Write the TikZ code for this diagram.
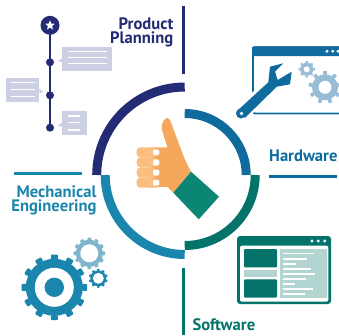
\documentclass[tikz,border=0pt]{standalone}
\usepackage{fontspec}
\setmainfont{PT Sans}
\usepackage{xcolor}
\definecolor{planningnavy}{HTML}{222B73}
\definecolor{hardwareblue}{HTML}{0F6A9E}
\definecolor{softwareteal}{HTML}{04736A}
\definecolor{mechblue}{HTML}{1B86AD}
\definecolor{bubblegrey}{HTML}{CDD0E2}
\definecolor{gearblue}{HTML}{97BDD6}
\definecolor{midgear}{HTML}{7FB5CC}
\definecolor{paneteal}{HTML}{B3D5D1}
\definecolor{handorange}{HTML}{F5A75B}
\definecolor{fingerorange}{HTML}{F9BE80}
\definecolor{cuffgreen}{HTML}{0B8574}
% x, y, outer radius, root radius, hole radius, teeth, colour
\newcommand{\cogwheel}[7]{%
  \fill[#7] (#1,#2) circle (#4);
  \foreach \ang in {1,...,#6}
    \fill[#7,rotate around={\ang*360/#6:(#1,#2)},rounded corners=0.8pt]
      ({#1-0.1*#4-0.6},{#2-#3}) rectangle ({#1+0.1*#4+0.6},{#2-#4+0.5});
  \fill[white] (#1,#2) circle (#5);
}
\tikzset{
  label/.style={font=\bfseries\fontsize{16.6}{13.8}\selectfont,inner sep=0pt,align=right},
  ring/.style={line width=9pt},
  bar/.style={line width=2.6pt},
  bubbleline/.style={white,line width=1.1pt},
  dot/.style={fill=planningnavy}
}
\begin{document}
\begin{tikzpicture}[x=1pt,y=-1pt]
  \useasboundingbox (0,0) rectangle (339,335);

  % timeline
  \draw[planningnavy,line width=2.4pt] (50,25) -- (50,128);
  \fill[dot] (50,25.3) circle (9.5);
  \fill[white] (50,20.3) -- (51.3,23.6) -- (54.8,23.8) -- (52.1,26.1) -- (53,29.5)
    -- (50,27.6) -- (47,29.5) -- (47.9,26.1) -- (45.2,23.8) -- (48.7,23.6) -- cycle;
  \foreach \dy in {62.3,95.3,127.7}
    \fill[dot] (50,\dy) circle (4);

  % bubbles
  \fill[bubblegrey] (62.3,46.7) rectangle (112.3,70.7);
  \fill[bubblegrey] (62.3,58) -- (57.7,61.3) -- (62.3,62) -- cycle;
  \foreach \ly in {51.7,57.5,63.3}
    \draw[bubbleline] (68.3,\ly) -- (107.3,\ly);
  \fill[bubblegrey] (6,78) rectangle (39.3,101.7);
  \fill[bubblegrey] (39.3,88.5) -- (43.5,92.3) -- (39.3,93) -- cycle;
  \foreach \ly in {82.3,89.3,96.7}
    \draw[bubbleline] (10.7,\ly) -- (35,\ly);
  \fill[bubblegrey] (62.3,111.3) rectangle (86.7,135.3);
  \fill[bubblegrey] (62.3,122.5) -- (57.7,125.7) -- (62.3,126.5) -- cycle;
  \foreach \ly in {116,122.8,130}
    \draw[bubbleline] (68.3,\ly) -- (80,\ly);

  % rules beside labels
  \draw[planningnavy,bar] (183.5,6) -- (183.5,74);
  \draw[hardwareblue,bar] (269.3,176.3) -- (337,176.3);
  \draw[softwareteal,bar] (183.5,267.7) -- (183.5,335);
  \draw[mechblue,bar] (14,173.4) -- (81.7,173.4);

  % labels
  \node[label,text=planningnavy,anchor=base east] (planning) at (173.5,43) {Product\\Planning};
  \node[label,text=hardwareblue,anchor=base west] (hardware) at (269,161.7) {Hardware};
  \node[label,text=mechblue,anchor=base east] (mech) at (96.7,211.7) {Mechanical\\Engineering};
  \node[label,text=softwareteal,anchor=base west] (software) at (192.3,330) {Software};

  % rings
  \draw[planningnavy,ring] (96.7,175) arc[start angle=180,delta angle=90,radius=88];
  \draw[hardwareblue,ring] (184.7,113.5) arc[start angle=270,delta angle=90,radius=61.5];
  \draw[softwareteal,ring] (255.2,175) arc[start angle=0,delta angle=90,radius=70.5];
  \draw[mechblue,ring] (184.7,254.5) arc[start angle=90,delta angle=90,radius=79.5];

  % hand
  \fill[handorange] (161.7,125) -- (164,120) -- (167.3,117.7) -- (170,120) -- (185,160)
    -- (191,171.7) -- (173.3,192.7) -- (167.3,186.7) -- (150,187.7) -- (150,147.3)
    -- (167.3,147.3) -- (162,130) -- cycle;
  \foreach \fy in {147.3,157.4,167.5,177.6}
    \fill[fingerorange,rounded corners=3.5pt] (136.7,\fy) rectangle (156,\fy+10.1);
  \foreach \fy in {149.3,159.4,169.5,179.6}
    \fill[white,rounded corners=1.5pt] (153,\fy) rectangle (159.3,\fy+6.1);
  \fill[cuffgreen] (191,171.7) -- (219,196.7) -- (198.7,219.3) -- (173.3,192.7) -- cycle;

  % hardware window
  \draw[hardwareblue,line width=1.8pt,rounded corners=2pt] (340,47.2) -- (252.9,47.2) -- (252.9,113.4) -- (340,113.4);
  \fill[hardwareblue,rounded corners=2pt] (252,46.3) rectangle (345,56);
  \foreach \wx in {327,332.7,338}
    \fill[white] (\wx,51.3) circle (1.6);
  \cogwheel{306.7}{69.3}{8.3}{6.5}{3}{8}{gearblue}
  \cogwheel{325}{87.3}{16.5}{13}{6.5}{9}{gearblue}
  \fill[white] (234,109) -- (266,80) -- (268,64) -- (288,60) -- (279,72) -- (279,76) -- (294,67) -- (292,86) -- (278,89) -- (246,120) -- cycle;
  \fill[hardwareblue] (237.3,110.7) -- (268.3,82.3) -- (270,66.7) -- (283.3,63.3) -- (275,71.7)
    -- (277.7,80) -- (291.7,71.7) -- (290,84.3) -- (276.7,86.7) -- (245,117.8) -- cycle;
  \fill[hardwareblue] (241,113.5) circle (5);
  \fill[white] (241.5,113.5) circle (1.8);

  % mechanical gears
  \cogwheel{89.3}{253.3}{15.7}{13.5}{9}{12}{midgear}
  \fill[white] (54.3,287.3) circle (34);
  \cogwheel{54.3}{287.3}{32.8}{28.5}{19.5}{12}{mechblue}
  \fill[mechblue] (54.3,287.3) circle (9.7);
  \cogwheel{98.3}{278.3}{9.5}{8}{5.5}{10}{mechblue}

  % software window
  \fill[softwareteal,rounded corners=3pt] (237,236) rectangle (331,304);
  \fill[white,rounded corners=2pt] (240,245.7) rectangle (328.3,301.7);
  \foreach \wx in {312,318.3,324.7}
    \fill[white] (\wx,241) circle (1.6);
  \fill[softwareteal,rounded corners=1pt] (244,249) rectangle (277,267.3);
  \fill[paneteal] (244,270) rectangle (277,277.3);
  \fill[softwareteal,rounded corners=1pt] (244,279.3) rectangle (277,297.7);
  \fill[paneteal] (280.3,249) rectangle (326.7,297.7);
  \foreach \ly/\lx in {253.7/314,259/306.7,264/296,269/310.7,274/315,279/306,284/295,289/312.7,294/305}
    \draw[bubbleline] (283.3,\ly) -- (\lx,\ly);
\end{tikzpicture}
\end{document}
